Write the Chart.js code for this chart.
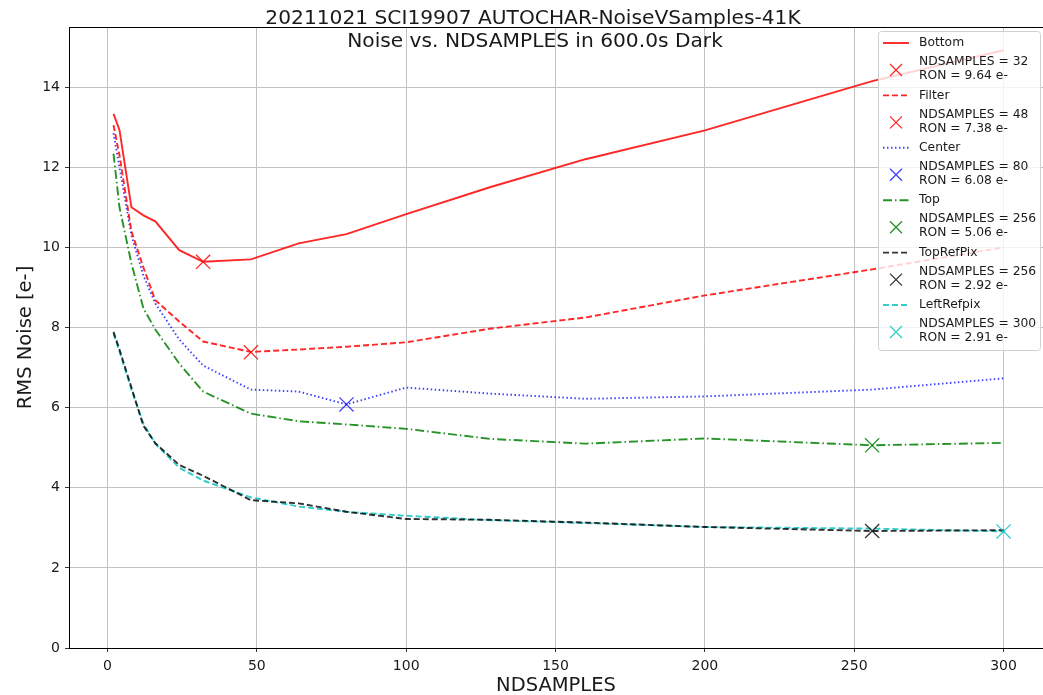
<!DOCTYPE html>
<html>
<head>
<meta charset="utf-8">
<script src="https://cdn.jsdelivr.net/npm/chart.js@4/dist/chart.umd.min.js"></script>
<style>
html,body{margin:0;padding:0;background:#fff;}
#wrap{width:1043px;height:695px;position:relative;}
</style>
</head>
<body>
<div id="wrap"><canvas id="c" width="1043" height="695"></canvas></div>
<script>
const titleLines = ['20211021 SCI19907 AUTOCHAR-NoiseVSamples-41K', 'Noise vs. NDSAMPLES in 600.0s Dark'];
const xLabel = 'NDSAMPLES';
const yLabel = 'RMS Noise [e-]';
const xTicks = [0, 50, 100, 150, 200, 250, 300];
const yTicks = [0, 2, 4, 6, 8, 10, 12, 14];

const ndsamples = [2, 4, 8, 12, 16, 24, 32, 48, 64, 80, 100, 128, 160, 200, 256, 300];
const bottom     = [13.33, 12.93, 11.0, 10.8, 10.65, 9.93, 9.64, 9.7, 10.1, 10.33, 10.83, 11.5, 12.2, 12.92, 14.15, 14.92];
const filter     = [13.05, 12.3, 10.4, 9.5, 8.68, 8.15, 7.65, 7.39, 7.45, 7.52, 7.63, 7.97, 8.25, 8.8, 9.45, 10.0];
const center     = [12.85, 12.0, 10.3, 9.3, 8.6, 7.7, 7.05, 6.45, 6.4, 6.08, 6.5, 6.35, 6.22, 6.28, 6.45, 6.73];
const topSeries  = [12.34, 11.0, 9.6, 8.48, 7.95, 7.1, 6.4, 5.85, 5.66, 5.58, 5.47, 5.22, 5.1, 5.23, 5.06, 5.12];
const topRefPix  = [7.89, 7.45, 6.5, 5.55, 5.11, 4.57, 4.3, 3.69, 3.61, 3.4, 3.22, 3.2, 3.13, 3.02, 2.92, 2.94];
const leftRefpix = [7.85, 7.4, 6.45, 5.6, 5.1, 4.5, 4.18, 3.76, 3.53, 3.4, 3.3, 3.19, 3.12, 3.02, 2.98, 2.91];

const seriesNames = ['Bottom', 'Filter', 'Center', 'Top', 'TopRefPix', 'LeftRefpix'];
const seriesValues = [bottom, filter, center, topSeries, topRefPix, leftRefpix];
const bestN   = [32, 48, 80, 256, 256, 300];
const bestRON = [9.64, 7.38, 6.08, 5.06, 2.92, 2.91];

const colors = ['rgba(255,0,0,0.85)', 'rgba(255,0,0,0.85)', 'rgba(0,0,255,0.75)', 'rgba(0,128,0,0.85)', 'rgba(0,0,0,0.8)', 'rgba(0,191,191,0.8)'];
const dashes = [[], [6, 3], [1.5, 2.5], [9, 3, 1.5, 3], [6, 3], [6, 3]];

const datasets = [];
seriesNames.forEach((name, i) => {
  datasets.push({
    label: name,
    data: ndsamples.map((x, j) => ({x: x, y: seriesValues[i][j]})),
    showLine: true,
    borderColor: colors[i],
    backgroundColor: colors[i],
    borderWidth: 1.9,
    borderDash: dashes[i],
    pointRadius: 0,
    pointHoverRadius: 0,
    tension: 0,
    fill: false,
    order: 10 + i
  });
  datasets.push({
    label: 'NDSAMPLES = ' + bestN[i] + '\nRON = ' + bestRON[i].toFixed(2) + ' e-',
    data: [{x: bestN[i], y: bestRON[i]}],
    showLine: false,
    pointStyle: 'crossRot',
    pointRadius: 10,
    pointBorderWidth: 1.3,
    borderColor: colors[i],
    backgroundColor: colors[i],
    order: i
  });
});

const FONT = "'DejaVu Sans', sans-serif";

const framePlugin = {
  id: 'frame',
  afterDraw(chart) {
    const ctx = chart.ctx, a = chart.chartArea;
    ctx.save();
    ctx.strokeStyle = '#000';
    ctx.lineWidth = 1;
    ctx.beginPath();
    ctx.moveTo(a.left, a.top + 0.5); ctx.lineTo(a.right, a.top + 0.5);
    ctx.stroke();
    // title
    ctx.fillStyle = '#1a1a1a';
    ctx.font = '20.2px ' + FONT;
    ctx.textAlign = 'center';
    ctx.textBaseline = 'middle';
    ctx.fillText(titleLines[0], 533, 19);
    ctx.fillText(titleLines[1], 535, 42);
    // legend
    const bx = 878.5, by = 31.5, bw = 162, bh = 319, r = 3;
    ctx.fillStyle = 'rgba(255,255,255,0.8)';
    ctx.strokeStyle = '#d0d0d0';
    ctx.lineWidth = 1;
    ctx.beginPath();
    ctx.moveTo(bx + r, by);
    ctx.lineTo(bx + bw - r, by); ctx.arcTo(bx + bw, by, bx + bw, by + r, r);
    ctx.lineTo(bx + bw, by + bh - r); ctx.arcTo(bx + bw, by + bh, bx + bw - r, by + bh, r);
    ctx.lineTo(bx + r, by + bh); ctx.arcTo(bx, by + bh, bx, by + bh - r, r);
    ctx.lineTo(bx, by + r); ctx.arcTo(bx, by, bx + r, by, r);
    ctx.closePath();
    ctx.fill(); ctx.stroke();
    ctx.font = '12.3px ' + FONT;
    ctx.textAlign = 'left';
    ctx.textBaseline = 'middle';
    const step = 52.4;
    chart.data.datasets.forEach((ds, k) => {
      const i = Math.floor(k / 2);
      const y0 = 43 + i * step;
      ctx.strokeStyle = ds.borderColor;
      ctx.fillStyle = '#1a1a1a';
      if (k % 2 === 0) {
        ctx.lineWidth = 1.9;
        ctx.setLineDash(ds.borderDash);
        ctx.beginPath(); ctx.moveTo(883, y0); ctx.lineTo(909, y0); ctx.stroke();
        ctx.setLineDash([]);
        ctx.fillText(ds.label, 919, y0);
      } else {
        const cy = y0 + 27, cx = 896, s = 6;
        ctx.lineWidth = 1.3;
        ctx.beginPath();
        ctx.moveTo(cx - s, cy - s); ctx.lineTo(cx + s, cy + s);
        ctx.moveTo(cx - s, cy + s); ctx.lineTo(cx + s, cy - s);
        ctx.stroke();
        const lines = ds.label.split('\n');
        ctx.fillText(lines[0], 919, y0 + 19);
        ctx.fillText(lines[1], 919, y0 + 33);
      }
    });
    ctx.restore();
  }
};

new Chart(document.getElementById('c'), {
  type: 'scatter',
  data: {datasets: datasets},
  plugins: [framePlugin],
  options: {
    responsive: false,
    animation: false,
    events: [],
    layout: {autoPadding: false, padding: {top: 27, left: 0, right: 0, bottom: 0}},
    plugins: {legend: {display: false}, title: {display: false}, tooltip: {enabled: false}},
    scales: {
      x: {
        type: 'linear',
        min: -12.9,
        max: 313.2,
        afterBuildTicks: s => { s.ticks = xTicks.map(v => ({value: v})); },
        afterFit: s => { s.height = 47; s.paddingLeft = 0; s.paddingRight = 0; },
        grid: {color: '#c2c2c2', lineWidth: 1, tickLength: 4, tickColor: '#333', drawOnChartArea: true},
        border: {display: true, color: '#000', width: 1},
        ticks: {color: '#1a1a1a', font: {family: FONT, size: 14}, padding: 6, maxRotation: 0, autoSkip: false},
        title: {display: true, text: xLabel, color: '#1a1a1a', font: {family: FONT, size: 19.5}, padding: {top: 0, bottom: -3}}
      },
      y: {
        type: 'linear',
        min: 0,
        max: 15.5,
        afterBuildTicks: s => { s.ticks = yTicks.map(v => ({value: v})); },
        afterFit: s => { s.width = 69; s.paddingTop = 0; s.paddingBottom = 0; },
        grid: {color: '#c2c2c2', lineWidth: 1, tickLength: 4, tickColor: '#333'},
        border: {display: true, color: '#000', width: 1},
        ticks: {color: '#1a1a1a', font: {family: FONT, size: 14}, padding: 5, autoSkip: false},
        title: {display: true, text: yLabel, color: '#1a1a1a', font: {family: FONT, size: 19.5}, padding: {top: 14, bottom: 0}}
      }
    }
  }
});
</script>
</body>
</html>
